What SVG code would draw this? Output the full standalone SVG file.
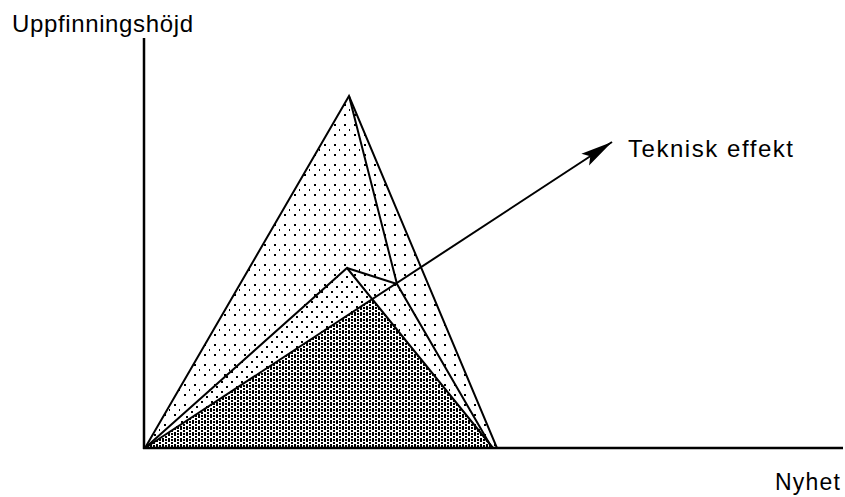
<svg xmlns="http://www.w3.org/2000/svg" width="845" height="497" viewBox="0 0 845 497">
  <style>
    .txt { font-family: "Liberation Sans", Arial, sans-serif; font-size: 24px; fill: #000; }
    .lbl-small { font-size: 23px; }
    .edge { fill: none; stroke: #000; stroke-width: 2; stroke-linejoin: miter; }
    .axis { fill: none; stroke: #000; stroke-width: 2.5; }
  </style>
  <defs>
    <pattern id="patA" patternUnits="userSpaceOnUse" width="10" height="10">
      <rect x="0" y="0" width="10" height="10" fill="#fff"/>
      <rect x="4" y="4" width="2" height="2" fill="#000"/>
    </pattern>
    <pattern id="patA2" patternUnits="userSpaceOnUse" width="10" height="20">
      <rect x="9" y="9" width="2" height="2" fill="#000"/>
    </pattern>
    <pattern id="patB" patternUnits="userSpaceOnUse" width="10" height="10">
      <rect x="0" y="0" width="10" height="10" fill="#fff"/>
      <rect x="1" y="1" width="2" height="2" fill="#000"/>
      <rect x="6" y="6" width="2" height="2" fill="#000"/>
    </pattern>
    <pattern id="patC" patternUnits="userSpaceOnUse" width="6" height="6">
      <rect x="0" y="0" width="6" height="6" fill="#fff"/>
      <rect x="0" y="0" width="2" height="4" fill="#000"/>
      <rect x="3" y="1" width="2" height="2" fill="#000"/>
      <rect x="3" y="4" width="2" height="2" fill="#000"/>
    </pattern>
    <marker id="arrowHead" markerUnits="userSpaceOnUse" viewBox="0 0 34 16" refX="32" refY="8" markerWidth="34" markerHeight="16" orient="auto">
      <polygon points="0,1 32,8 0,15 6,8" fill="#000"/>
    </marker>
  </defs>

  <g id="outer-triangle">
    <polygon points="145,448 349,96 497,448" fill="url(#patA)"/>
  </g>
  <g id="inner-region">
    <polygon points="145,448 349,96 397,284 492,448" fill="url(#patA2)"/>
  </g>
  <g id="medium-triangle">
    <polygon points="145,448 347,268 493,448" fill="url(#patB)"/>
  </g>
  <g id="dense-triangle">
    <polygon points="145,448 372,299 493,448" fill="url(#patC)"/>
  </g>

  <g id="outlines">
    <polygon class="edge" points="145,448 349,96 497,448"/>
    <polyline class="edge" points="349,96 397,284 492,448"/>
    <polyline class="edge" points="145,448 347,268 493,448"/>
    <line class="edge" x1="347" y1="268" x2="397" y2="284"/>
  </g>

  <g id="connectors">
    <line class="edge" x1="145" y1="448" x2="612" y2="142" marker-end="url(#arrowHead)"/>
  </g>

  <g id="axes">
    <line class="axis" x1="144" y1="38" x2="144" y2="449"/>
    <line class="axis" x1="143" y1="448" x2="843" y2="448"/>
  </g>

  <g id="labels">
    <text class="txt" x="12" y="32" textLength="181" lengthAdjust="spacing">Uppfinningshöjd</text>
    <text class="txt" x="628" y="157" textLength="165" lengthAdjust="spacing">Teknisk effekt</text>
    <text class="txt lbl-small" x="775" y="490" textLength="65" lengthAdjust="spacing">Nyhet</text>
  </g>
</svg>
